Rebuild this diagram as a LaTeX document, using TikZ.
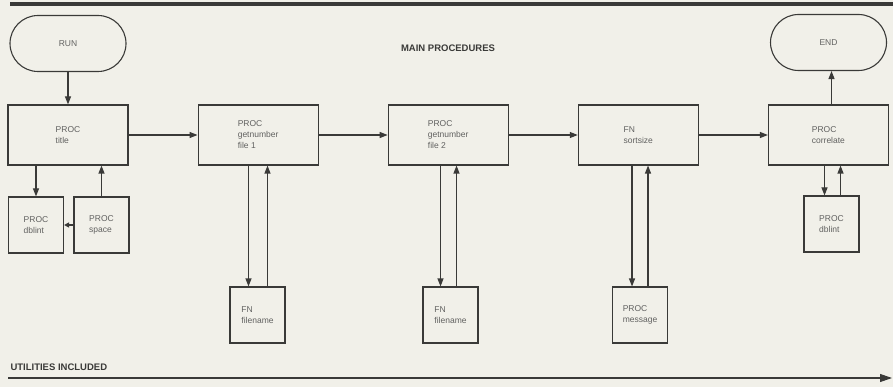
\documentclass[tikz,border=0pt]{standalone}
\usepackage{fontspec}
\setmainfont{Liberation Sans}
\usepackage{xcolor}
\usetikzlibrary{arrows.meta,positioning}
\definecolor{paper}{RGB}{241,240,233}
\definecolor{ink}{RGB}{58,58,56}

\begin{document}
\begin{tikzpicture}[
      x=1pt, y=-1pt,
      node distance=69pt,
      every node/.style={font=\fontsize{8.5}{11}\selectfont, text=ink!80},
      proc/.style={
        draw=ink, line width=1.1pt, align=left, inner sep=0pt,
        minimum width=120pt, minimum height=60pt
      },
      util/.style={
        draw=ink, line width=1.1pt, align=left, inner sep=0pt,
        minimum width=55pt, minimum height=56pt
      },
      term/.style={
        draw=ink, line width=1.1pt, rounded corners=28pt, inner sep=0pt,
        minimum width=116pt, minimum height=56pt
      },
      heading/.style={font=\bfseries\fontsize{9.5}{11}\selectfont, text=ink},
      arrow/.style={draw=ink, line width=1.1pt, -{Triangle[length=8pt,width=6pt]}}
    ]
    \fill[paper] (0,0) rectangle (893,387);
    \useasboundingbox (0,0) rectangle (893,387);

    % top rule
    \coordinate (ruleL) at (10,4);
    \coordinate (ruleR) at (893,4);
    \draw[ink, line width=4pt] (ruleL) -- (ruleR);

    \node[term] (run) at (68,43.5) {RUN};
    \node[term] (end) at (828.5,42.5) {END};
    \node[heading] (main) at (448,48) {MAIN PROCEDURES};

    % main row
    \node[proc] (title) at (68,135) {PROC\\title};
    \node[proc, right=of title] (getA) {PROC\\getnumber\\file 1};
    \node[proc, right=of getA] (getB) {PROC\\getnumber\\file 2};
    \node[proc, right=of getB] (sort) {FN\\sortsize};
    \node[proc, right=of sort] (corr) {PROC\\correlate};

    % utilities
    \node[util] (dblA) at (36,225) {PROC\\dblint};
    \node[util] (space) at (101.5,225) {PROC\\space};
    \node[util] (fileA) at (257.5,315) {FN\\filename};
    \node[util] (fileB) at (450.5,315) {FN\\filename};
    \node[util] (msg) at (640,315) {PROC\\message};
    \node[util] (dblB) at (831.5,224) {PROC\\dblint};

    \draw[arrow] (run) -- (title);
    \draw[arrow] (title) -- (getA);
    \draw[arrow] (getA) -- (getB);
    \draw[arrow] (getB) -- (sort);
    \draw[arrow] (sort) -- (corr);
    \draw[arrow] (corr.north -| end.south) ++(3pt,0) coordinate (corrUp) -- (corrUp |- end.south);

    \draw[arrow] (dblA.north |- title.south) -- (dblA.north);
    \draw[arrow] (space.north) -- (space.north |- title.south);
    \draw[arrow, -{Triangle[length=5pt,width=5pt]}] (space.west) -- (dblA.east);

    \draw[arrow] ([xshift=-9pt]fileA.north |- getA.south) -- ([xshift=-9pt]fileA.north);
    \draw[arrow] ([xshift=10pt]fileA.north) -- ([xshift=10pt]fileA.north |- getA.south);
    \draw[arrow] ([xshift=-10pt]fileB.north |- getB.south) -- ([xshift=-10pt]fileB.north);
    \draw[arrow] ([xshift=6pt]fileB.north) -- ([xshift=6pt]fileB.north |- getB.south);
    \draw[arrow] ([xshift=-8pt]msg.north |- sort.south) -- ([xshift=-8pt]msg.north);
    \draw[arrow] ([xshift=8pt]msg.north) -- ([xshift=8pt]msg.north |- sort.south);
    \draw[arrow] ([xshift=-7pt]dblB.north |- corr.south) -- ([xshift=-7pt]dblB.north);
    \draw[arrow] ([xshift=9pt]dblB.north) -- ([xshift=9pt]dblB.north |- corr.south);

    % utilities line
    \node[heading, anchor=west] (utils) at (7,367) {UTILITIES INCLUDED};
    \coordinate (utilL) at (8,378);
    \coordinate (utilR) at (892,378);
    \draw[arrow, -{Triangle[length=12pt,width=8pt]}] (utilL) -- (utilR);
  \end{tikzpicture}
\end{document}
